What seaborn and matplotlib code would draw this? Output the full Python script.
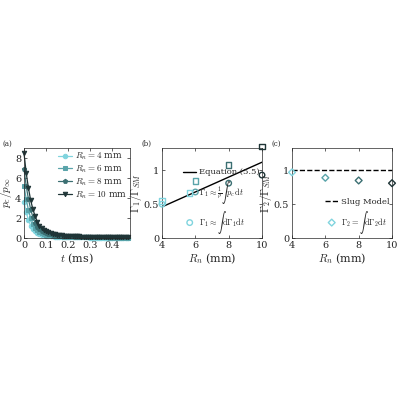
import matplotlib
matplotlib.use("Agg")
import matplotlib.pyplot as plt
import seaborn as sns

sns.set_style("ticks")
plt.rcParams['font.family'] = ['DejaVu Serif']
plt.rcParams['mathtext.fontset'] = 'cm'
plt.rcParams['font.size'] = 7

# panel (a) data: time (ms) and p_c/p_inf per nozzle radius
t_ms = [0.00, 0.01, 0.02, 0.03, 0.04, 0.05, 0.06, 0.07, 0.08, 0.09, 0.10, 0.11, 0.12,
        0.13, 0.14, 0.15, 0.16, 0.17, 0.18, 0.19, 0.20, 0.21, 0.22, 0.23, 0.24, 0.25,
        0.26, 0.27, 0.28, 0.29, 0.30, 0.31, 0.32, 0.33, 0.34, 0.35, 0.36, 0.37, 0.38,
        0.39, 0.40, 0.41, 0.42, 0.43, 0.44, 0.45, 0.46, 0.47]
p_4 = [3.6, 2.6, 1.8, 1.25, 0.9, 0.66, 0.5, 0.4, 0.33, 0.28, 0.24, 0.21, 0.19,
       0.17, 0.15, 0.14, 0.13, 0.12, 0.11, 0.10, 0.09, 0.085, 0.08, 0.075, 0.07, 0.065,
       0.06, 0.058, 0.055, 0.052, 0.05, 0.048, 0.046, 0.044, 0.042, 0.04, 0.038, 0.036, 0.035,
       0.034, 0.033, 0.032, 0.031, 0.03, 0.029, 0.028, 0.027, 0.026]
p_6 = [5.2, 3.9, 2.8, 2.0, 1.45, 1.05, 0.78, 0.6, 0.48, 0.4, 0.34, 0.3, 0.26,
       0.23, 0.21, 0.19, 0.17, 0.16, 0.15, 0.14, 0.13, 0.12, 0.11, 0.105, 0.1, 0.095,
       0.09, 0.085, 0.08, 0.076, 0.072, 0.068, 0.065, 0.062, 0.06, 0.057, 0.055, 0.053, 0.051,
       0.049, 0.047, 0.045, 0.043, 0.041, 0.04, 0.039, 0.038, 0.037]
p_8 = [6.9, 5.2, 3.9, 2.9, 2.1, 1.55, 1.15, 0.88, 0.7, 0.57, 0.48, 0.41, 0.36,
       0.32, 0.29, 0.26, 0.24, 0.22, 0.2, 0.19, 0.18, 0.17, 0.16, 0.15, 0.14, 0.13,
       0.125, 0.12, 0.115, 0.11, 0.105, 0.1, 0.095, 0.09, 0.086, 0.082, 0.078, 0.075, 0.072,
       0.07, 0.068, 0.066, 0.064, 0.062, 0.06, 0.058, 0.056, 0.055]
p_10 = [8.5, 6.5, 5.0, 3.8, 2.9, 2.2, 1.65, 1.25, 0.98, 0.8, 0.66, 0.56, 0.48,
        0.42, 0.37, 0.33, 0.3, 0.27, 0.25, 0.23, 0.21, 0.2, 0.19, 0.18, 0.17, 0.16,
        0.15, 0.145, 0.14, 0.135, 0.13, 0.125, 0.12, 0.115, 0.11, 0.105, 0.1, 0.097, 0.094,
        0.091, 0.088, 0.085, 0.082, 0.08, 0.078, 0.076, 0.074, 0.072]

# panel (b) and (c) data
R_n = [4, 6, 8, 10]
gamma1_pc = [0.55, 0.84, 1.08, 1.35]
gamma1_int = [0.50, 0.68, 0.81, 0.93]
eq55_x = [4, 10]
eq55_y = [0.46, 1.12]
gamma2_int = [0.97, 0.89, 0.85, 0.81]

colors = ['#80d4de', '#5aa4aa', '#3b6f72', '#1f3537']
markers = ['o', 's', 'p', 'v']
series = [p_4, p_6, p_8, p_10]

fig = plt.figure(figsize=(4, 4), dpi=100)
ax_a = fig.add_axes([0.06, 0.405, 0.265, 0.225])
ax_b = fig.add_axes([0.405, 0.405, 0.25, 0.225])
ax_c = fig.add_axes([0.73, 0.405, 0.25, 0.225])

for p, c, m, r in zip(series, colors, markers, R_n):
    sns.lineplot(x=t_ms, y=p, ax=ax_a, color=c, marker=m, markersize=3.2,
                 markeredgecolor=c, lw=0.9, label=rf'$R_n = {r}$ mm', clip_on=False)
ax_a.set_xlim(0, 0.48)
ax_a.set_ylim(0, 9)
ax_a.set_xticks([0, 0.1, 0.2, 0.3, 0.4])
ax_a.set_xticklabels(['0', '0.1', '0.2', '0.3', '0.4'])
ax_a.set_yticks([0, 2, 4, 6, 8])
ax_a.set_xlabel(r'$t$ (ms)', labelpad=1, fontsize=8)
ax_a.set_ylabel(r'$p_c/p_\infty$', labelpad=1, fontsize=8)
ax_a.legend(loc='upper right', frameon=False, handlelength=1.6, borderpad=0.1,
            labelspacing=0.15, fontsize=6.5, borderaxespad=0.2, handletextpad=0.3)
ax_a.text(-0.2, 1.0, '(a)', transform=ax_a.transAxes, fontsize=5, va='bottom')

sns.lineplot(x=eq55_x, y=eq55_y, ax=ax_b, color='black', lw=1, label='Equation (5.5)')
for i in range(4):
    ax_b.scatter(R_n[i], gamma1_pc[i], marker='s', s=16, facecolors='none',
                 edgecolors=colors[i], linewidths=1, clip_on=False, zorder=3,
                 label=r'$\Gamma_1 \approx \frac{1}{\rho}\int p_c\, \mathrm{d}t$' if i == 0 else None)
for i in range(4):
    ax_b.scatter(R_n[i], gamma1_int[i], marker='o', s=16, facecolors='none',
                 edgecolors=colors[i], linewidths=1, clip_on=False, zorder=3,
                 label=r'$\Gamma_1 \approx \int \mathrm{d}\Gamma_1 \mathrm{d}t$' if i == 0 else None)
ax_b.set_xlim(4, 10)
ax_b.set_ylim(0, 1.33)
ax_b.set_xticks([4, 6, 8, 10])
ax_b.set_yticks([0, 0.5, 1])
ax_b.set_yticklabels(['0', '0.5', '1'])
ax_b.set_xlabel(r'$R_n$ (mm)', labelpad=1, fontsize=8)
ax_b.set_ylabel(r'$\Gamma_1/\Gamma_{SM}$', labelpad=0, fontsize=8)
ax_b.legend(loc='lower right', frameon=False, handlelength=1.6, borderpad=0.1,
            labelspacing=0.3, fontsize=6, borderaxespad=0.2, handletextpad=0.3)
ax_b.text(-0.2, 1.0, '(b)', transform=ax_b.transAxes, fontsize=5, va='bottom')

ax_c.axhline(1, color='black', ls='--', lw=1, label='Slug Model')
for i in range(4):
    ax_c.scatter(R_n[i], gamma2_int[i], marker='D', s=12, facecolors='none',
                 edgecolors=colors[i], linewidths=1, clip_on=False, zorder=3,
                 label=r'$\Gamma_2 = \int \mathrm{d}\Gamma_2 \mathrm{d}t$' if i == 0 else None)
ax_c.set_xlim(4, 10)
ax_c.set_ylim(0, 1.33)
ax_c.set_xticks([4, 6, 8, 10])
ax_c.set_yticks([0, 0.5, 1])
ax_c.set_yticklabels(['0', '0.5', '1'])
ax_c.set_xlabel(r'$R_n$ (mm)', labelpad=1, fontsize=8)
ax_c.set_ylabel(r'$\Gamma_2/\Gamma_{SM}$', labelpad=0, fontsize=8)
ax_c.legend(loc='lower right', frameon=False, handlelength=1.6, borderpad=0.1,
            labelspacing=0.3, fontsize=6, borderaxespad=0.2, handletextpad=0.3)
ax_c.text(-0.2, 1.0, '(c)', transform=ax_c.transAxes, fontsize=5, va='bottom')

for ax in (ax_a, ax_b, ax_c):
    ax.tick_params(direction='in', length=2, width=0.5, pad=2, labelsize=7,
                   top=True, right=True)
    for s in ax.spines.values():
        s.set_linewidth(0.5)
        s.set_visible(True)

fig.savefig('out.png', dpi=100)
